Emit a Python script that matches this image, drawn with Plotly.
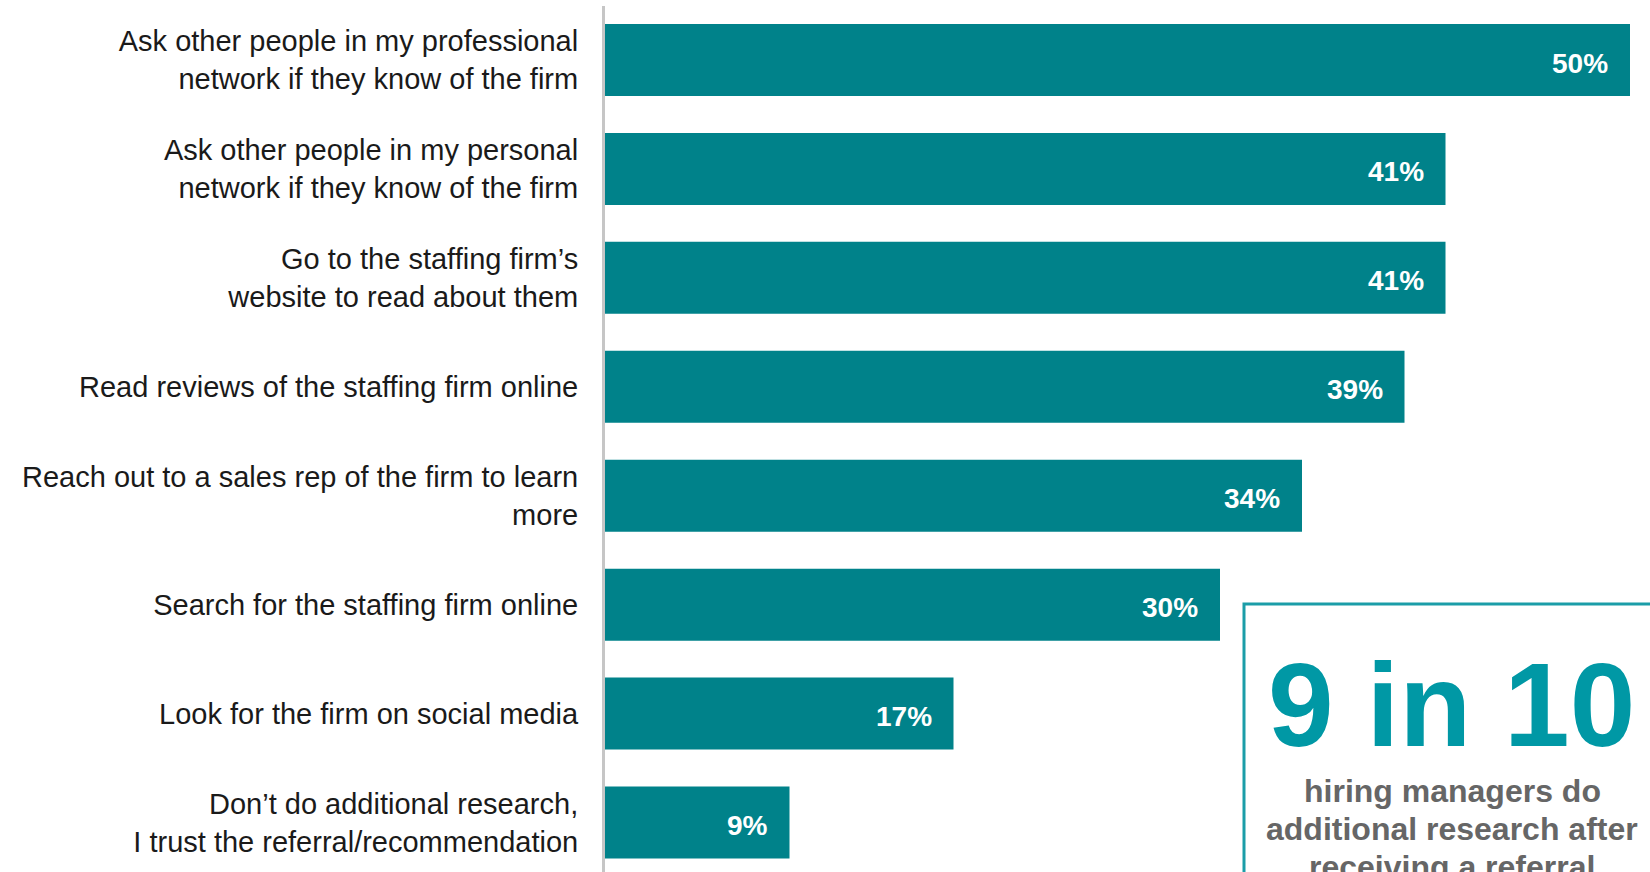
import plotly.graph_objects as go

# Survey responses: what hiring managers do after receiving a referral
categories = [
    "Ask other people in my professional<br>network if they know of the firm",
    "Ask other people in my personal<br>network if they know of the firm",
    "Go to the staffing firm\u2019s<br>website to read about them",
    "Read reviews of the staffing firm online",
    "Reach out to a sales rep of the firm to learn<br>more",
    "Search for the staffing firm online",
    "Look for the firm on social media",
    "Don\u2019t do additional research,<br>I trust the referral/recommendation",
]
values = [50, 41, 41, 39, 34, 30, 17, 9]
value_labels = [f"{v}%" for v in values]

callout_big = "9 in 10"
callout_lines = [
    "hiring managers do",
    "additional research after",
    "receiving a referral",
]

BAR = "#00828A"
ACCENT = "#0098A5"
FONT = "Arial, Liberation Sans, sans-serif"

W, H = 1650, 872
ML, MT = 605, 6
PW, PH = W - ML, H - MT
PX_PER_PCT = 20.5


def px_x(p):
    return (p - ML) / PW


def px_y(p):
    return (H - p) / PH


fig = go.Figure()
fig.add_trace(go.Bar(
    x=values,
    y=categories,
    orientation="h",
    width=0.661,
    marker=dict(color=BAR, line=dict(width=0)),
    hoverinfo="skip",
))

# value labels at the inner end of each bar
for cat, v, lab in zip(categories, values, value_labels):
    fig.add_annotation(
        x=v, y=cat, xref="x", yref="y",
        text=f"<b>{lab}</b>", showarrow=False,
        xanchor="right", yanchor="middle", xshift=-20, yshift=-3,
        font=dict(family=FONT, size=28, color="white"),
    )

# callout box
fig.add_shape(
    type="rect", xref="paper", yref="paper",
    x0=px_x(1244), x1=px_x(1665), y0=px_y(900), y1=px_y(604),
    line=dict(color="#1B9DA8", width=3), fillcolor="white", layer="above",
)
fig.add_annotation(
    x=px_x(1451), y=px_y(705), xref="paper", yref="paper",
    text=f"<b>{callout_big}</b>", showarrow=False,
    xanchor="center", yanchor="middle",
    font=dict(family=FONT, size=118, color=ACCENT),
)
for i, line in enumerate(callout_lines):
    fig.add_annotation(
        x=px_x(1452), y=px_y(791 + 38 * i), xref="paper", yref="paper",
        text=f"<b>{line}</b>", showarrow=False,
        xanchor="center", yanchor="middle",
        font=dict(family=FONT, size=32, color="#666666"),
    )

fig.update_layout(
    width=W, height=H,
    margin=dict(l=ML, r=0, t=MT, b=0, pad=0),
    paper_bgcolor="white", plot_bgcolor="white",
    showlegend=False,
    font=dict(family=FONT, size=29, color="#1A1A1A"),
    xaxis=dict(
        range=[0, PW / PX_PER_PCT],
        showticklabels=False, showgrid=False, zeroline=False, showline=False,
        fixedrange=True,
    ),
    yaxis=dict(
        type="category",
        categoryorder="array", categoryarray=categories,
        range=[-0.4957 + PH / 108.93, -0.4957],
        showgrid=False, zeroline=False,
        showline=True, linecolor="#C6C6C6", linewidth=3,
        ticks="", ticklabelstandoff=18,
        tickfont=dict(family=FONT, size=29, color="#1A1A1A"),
        fixedrange=True,
    ),
)

fig.write_html("out.html")
